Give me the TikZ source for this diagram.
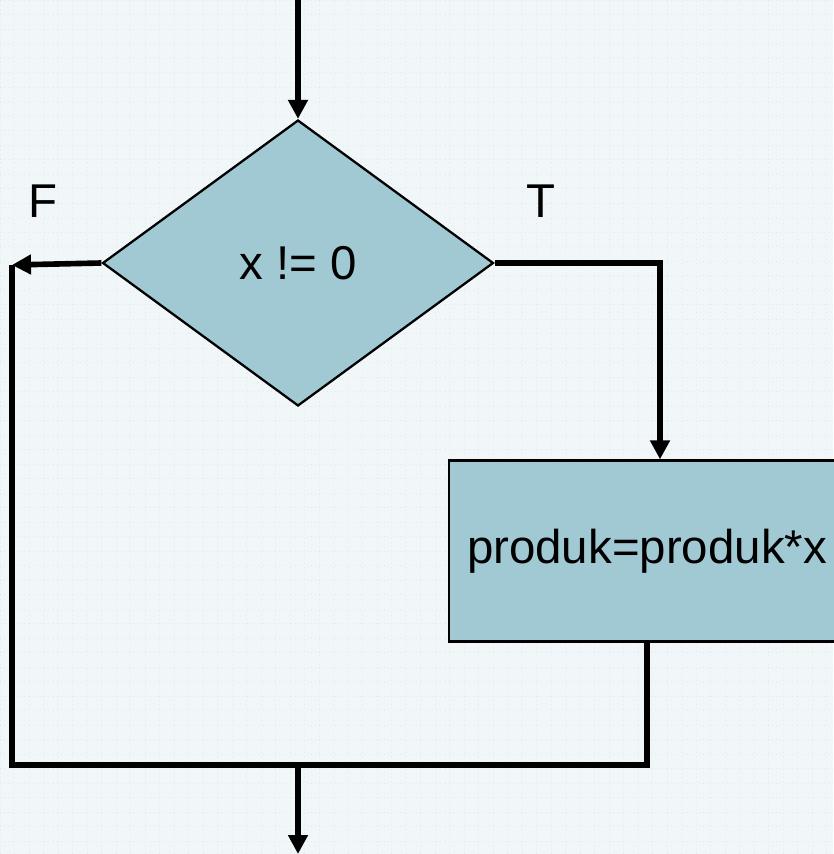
\documentclass[tikz,border=0pt]{standalone}
\usepackage{fontspec}
\setmainfont{Liberation Sans}
\usetikzlibrary{shapes.geometric,arrows.meta}

\definecolor{boxfill}{RGB}{160,201,211}
\definecolor{paper}{RGB}{241,246,248}
\definecolor{paperline}{RGB}{222,235,239}

\begin{document}
\begin{tikzpicture}[x=0.02cm,y=-0.02cm]
    \tikzstyle{every node}=[font=\fontsize{27}{32}\selectfont]
    \tikzstyle{flow}=[line width=3.2pt,-{Triangle[length=0.38cm,width=0.38cm]}]
    \tikzstyle{wire}=[line width=3.2pt]
    \tikzstyle{cond}=[diamond,draw,line width=1.3pt,fill=boxfill,inner sep=0pt,
        minimum width=7.82cm,minimum height=5.72cm]
    \tikzstyle{proc}=[rectangle,draw,line width=1.3pt,fill=boxfill,inner sep=0pt,
        minimum width=7.92cm,minimum height=3.62cm]

    %% Paper with faint grid
    \useasboundingbox (0,0) rectangle (833,854);
    \fill[paper] (0,0) rectangle (833,854);
    \draw[paperline,line width=0.3pt,dotted,step=0.29cm] (0,0) grid (833,854);

    %% Loop test and body
    \node [cond] at (298,263) (test) {x != 0};
    \node [proc] at (647,551) (body) {produk=produk*x};

    \node at (43,201) (lblF) {F};
    \node at (541,201) (lblT) {T};

    \coordinate (entry) at (298,0);
    \coordinate (lcorner) at (12,265);
    \coordinate (join) at (298,765);
    \coordinate (exit) at (298,854);

    %% Connectors
    \draw [flow] (entry) -- (test.north);
    \draw [flow] (test.east) -| ([xshift=0.26cm]body.north);
    \draw [flow] (test.west) -- (lcorner);
    \draw [wire] (lcorner) |- (body.south |- join) -- (body.south);
    \draw [flow] (join) -- (exit);
\end{tikzpicture}
\end{document}
